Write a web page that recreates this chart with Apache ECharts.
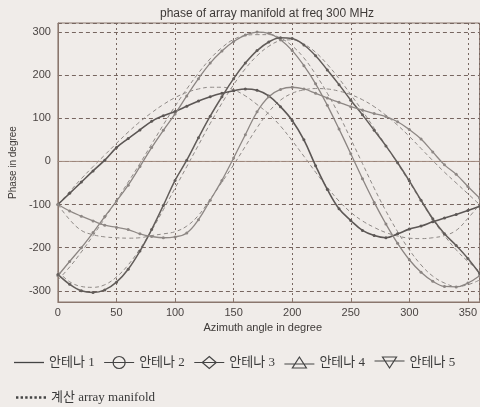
<!DOCTYPE html>
<html><head><meta charset="utf-8">
<script src="https://cdn.jsdelivr.net/npm/echarts@6/dist/echarts.min.js"></script>
<style>html,body{margin:0;padding:0;background:#f0ece9;}#c{width:480px;height:407px;}</style>
</head><body><div id="c"></div>
<script>
// ---------- DATA ----------
const angles = [0,10,20,30,40,50,60,70,80,90,100,110,120,130,140,150,160,170,180,190,200,210,220,230,240,250,260,270,280,290,300,310,320,330,340,350,360];
const xTicks = [0,50,100,150,200,250,300,350];
const yTicks = [-300,-200,-100,0,100,200,300];
// measured (안테나 1 is the reference, 0 everywhere)
const ant1 = [0,0,0,0,0,0,0,0,0,0,0,0,0,0,0,0,0,0,0,0,0,0,0,0,0,0,0,0,0,0,0,0,0,0,0,0,0];
const ant2 = [-100,-74,-48,-22,3,32,53,73,93,106,116,128,140,150,158,164,168,165,152,127,95,50,-10,-65,-110,-137,-160,-172,-177,-168,-157,-150,-140,-131,-123,-114,-104];
const ant3 = [-265,-232,-200,-165,-128,-92,-55,-12,32,72,110,152,192,228,256,278,293,300,297,282,257,222,180,130,75,18,-40,-95,-145,-190,-228,-257,-278,-290,-291,-282,-265];
const ant4 = [-262,-285,-300,-304,-298,-280,-250,-208,-158,-102,-44,3,55,105,150,192,228,257,277,287,285,270,245,212,178,142,108,72,36,-3,-45,-90,-133,-168,-195,-225,-260];
const ant5 = [-100,-115,-127,-138,-148,-153,-158,-168,-174,-177,-175,-166,-135,-90,-44,8,62,115,150,167,172,168,158,147,137,127,119,111,104,92,74,52,22,-8,-30,-58,-85];
// calculated array manifold
const calc2 = [-100,-70,-40,-12,15,42,68,92,113,132,148,160,168,172,172,166,152,132,110,82,48,12,-25,-60,-92,-118,-138,-153,-165,-173,-178,-179,-177,-172,-160,-132,-100];
const calc3 = [-275,-245,-210,-172,-132,-90,-48,-5,40,85,128,168,205,238,264,283,292,294,294,286,268,240,202,158,108,52,-5,-62,-115,-163,-205,-240,-266,-282,-290,-286,-275];
const calc4 = [-255,-279,-290,-292,-286,-268,-240,-203,-160,-112,-62,-12,38,88,135,178,215,245,267,280,282,272,253,225,192,155,117,77,37,-5,-48,-92,-135,-172,-205,-232,-255];
const calc5 = [-100,-135,-160,-170,-175,-177,-178,-177,-172,-168,-163,-150,-125,-88,-48,-8,35,78,115,142,158,166,169,168,163,155,143,127,107,84,58,30,2,-25,-50,-75,-100];

const calcName = '계산 array manifold';
const antNames = ['안테나 1','안테나 2','안테나 3','안테나 4','안테나 5'];

function pts(v){ return angles.map((a,i)=>[a, v[i]]); }

const gridCol = '#776660';
const axisCol = '#8a766d';
const measured = [
  {name: antNames[1], data: ant2, color: '#5c5755', w: 1.6},
  {name: antNames[2], data: ant3, color: '#8b8582', w: 1.3},
  {name: antNames[3], data: ant4, color: '#625d5a', w: 1.5},
  {name: antNames[4], data: ant5, color: '#8e8885', w: 1.3}
];
const calcs = [calc2, calc3, calc4, calc5];

const series = [];
series.push({name: antNames[0], type:'line', data: pts(ant1), symbol:'none', z:3,
  lineStyle:{color:'#a08a7e', width:1}, itemStyle:{color:'#444'}});
calcs.forEach(c => series.push({name: calcName, type:'line', data: pts(c), symbol:'none', smooth:0.4, z:2,
  lineStyle:{color:'#8e8986', width:1, type:[4,3]}, itemStyle:{color:'#444'}}));
measured.forEach(m => series.push({name: m.name, type:'line', data: pts(m.data), smooth:0.4, z:4,
  symbol:'circle', symbolSize:3, showSymbol:true,
  lineStyle:{color:m.color, width:m.w}, itemStyle:{color:m.color}}));

const legFont = "'Liberation Serif','Noto Sans CJK KR',serif";
const stroke = {color:'none', borderColor:'#444', borderWidth:1.2};
const chart = echarts.init(document.getElementById('c'), null, {renderer:'canvas'});
chart.setOption({
  backgroundColor:'#f0ece9',
  animation:false,
  title:{text:'phase of array manifold at freq 300 MHz', left:155, top:3,
    textStyle:{fontFamily:'Liberation Sans, Arial', fontSize:12, fontWeight:'normal', color:'#3e3a38'}},
  grid:{left:55, top:23, right:-7, bottom:105, show:true, borderColor:axisCol, borderWidth:1, backgroundColor:'transparent'},
  legend:[
    {left:9, top:349, itemWidth:30, itemHeight:14, itemGap:7, selectedMode:false,
     textStyle:{fontFamily:legFont, fontSize:13, color:'#3a3a3a'},
     data:[
       {name:antNames[0], icon:'path://M0 0 L30 0 L30 1.3 L0 1.3 Z', itemStyle:{color:'#444'}},
       {name:antNames[1], icon:'path://M0 7 L30 7 M9 7 A6 6 0 1 1 21 7 A6 6 0 1 1 9 7', itemStyle:stroke},
       {name:antNames[2], icon:'path://M0 7 L30 7 M15 1 L22 7 L15 13 L8 7 Z', itemStyle:stroke},
       {name:antNames[3], icon:'path://M0 8 L30 8 M15 1 L22 12 L8 12 Z', itemStyle:stroke},
       {name:antNames[4], icon:'path://M0 6 L30 6 M8 2 L22 2 L15 13 Z', itemStyle:stroke}
     ]},
    {left:11, top:386, itemWidth:30, itemHeight:14, selectedMode:false,
     textStyle:{fontFamily:legFont, fontSize:13, color:'#3a3a3a'},
     data:[{name:calcName,
       icon:'path://M0 0 h2.4 v2.4 h-2.4 Z M4.6 0 h2.4 v2.4 h-2.4 Z M9.2 0 h2.4 v2.4 h-2.4 Z M13.8 0 h2.4 v2.4 h-2.4 Z M18.4 0 h2.4 v2.4 h-2.4 Z M23 0 h2.4 v2.4 h-2.4 Z M27.6 0 h2.4 v2.4 h-2.4 Z',
       itemStyle:{color:'#444'}}]}
  ],
  xAxis:{type:'value', min:0, max:360, interval:50,
    name:'Azimuth angle in degree', nameLocation:'middle', nameGap:16,
    nameTextStyle:{fontFamily:'Liberation Sans, Arial', fontSize:11, color:'#3e3a38', padding:[0,12,0,0]},
    axisLine:{show:true, onZero:false, lineStyle:{color:axisCol}},
    axisTick:{show:true, inside:true, length:4, lineStyle:{color:axisCol}},
    axisLabel:{showMaxLabel:false, margin:5, fontFamily:'Liberation Sans, Arial', fontSize:11, color:'#4a4442',
      formatter: v => xTicks.includes(v) ? String(v) : ''},
    splitLine:{show:true, lineStyle:{color:gridCol, type:[2,3], width:1}}},
  yAxis:{type:'value', min:-326, max:321,
    name:'Phase in degree', nameLocation:'middle', nameGap:39,
    nameTextStyle:{fontFamily:'Liberation Sans, Arial', fontSize:10, color:'#3e3a38'},
    axisLine:{show:true, onZero:false, lineStyle:{color:axisCol}},
    axisTick:{show:false},
    axisLabel:{margin:7, fontFamily:'Liberation Sans, Arial', fontSize:11, color:'#4a4442',
      formatter: v => yTicks.includes(v) ? String(v) : ''},
    splitLine:{show:true, lineStyle:{color:gridCol, type:[4,3], width:1}}},
  series: series
});
</script></body></html>
